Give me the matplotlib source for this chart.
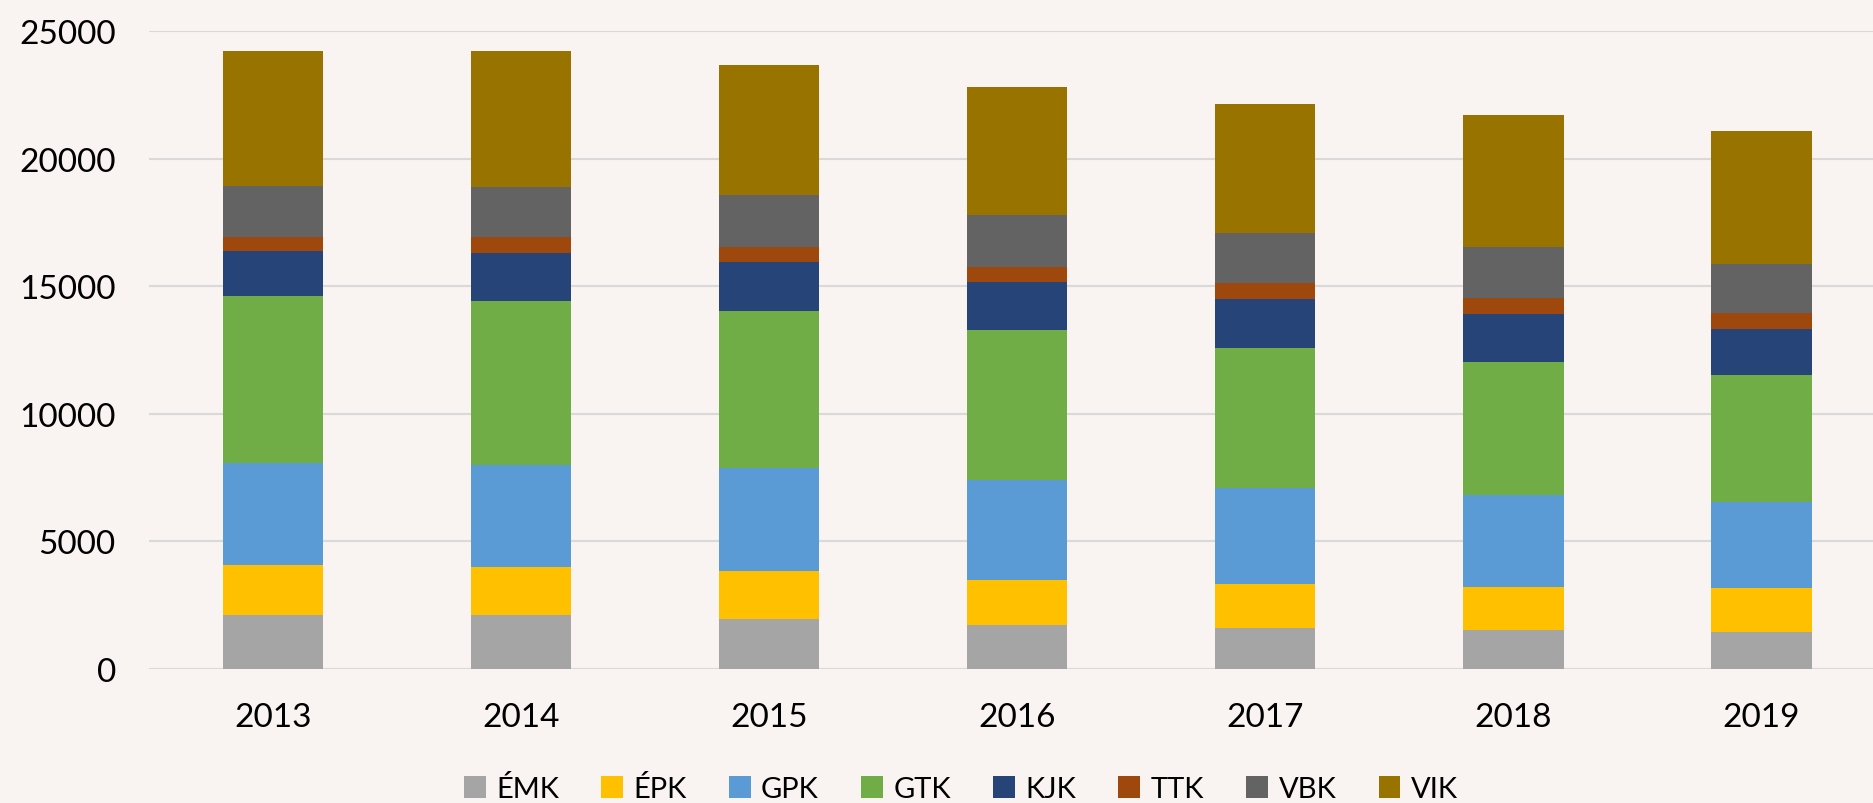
import numpy as np
import matplotlib.pyplot as plt

# Data
years = ["2013", "2014", "2015", "2016", "2017", "2018", "2019"]
faculties = ["ÉMK", "ÉPK", "GPK", "GTK", "KJK", "TTK", "VBK", "VIK"]

emk = [2110, 2110, 1940, 1730, 1610, 1520, 1430]
epk = [1970, 1870, 1900, 1760, 1710, 1690, 1750]
gpk = [3980, 4000, 4050, 3930, 3790, 3610, 3370]
gtk = [6560, 6430, 6150, 5850, 5470, 5190, 4960]
kjk = [1760, 1900, 1900, 1890, 1920, 1890, 1820]
ttk = [560, 610, 590, 590, 630, 650, 630]
vbk = [1990, 1970, 2030, 2030, 1970, 1990, 1920]
vik = [5290, 5310, 5100, 5010, 5050, 5150, 5190]

series = [emk, epk, gpk, gtk, kjk, ttk, vbk, vik]
colors = ["#A5A5A5", "#FFC000", "#5B9BD5", "#70AD47",
          "#264478", "#9E480E", "#636363", "#997300"]

plt.rcParams['font.family'] = ['Lato', 'DejaVu Sans']

bg = "#F9F4F1"
fig = plt.figure(figsize=(18.73, 8.04), dpi=100, facecolor=bg)
# plot area runs a little past the right edge of the picture
ax = fig.add_axes([0.0796, 0.1667, 0.927, 0.7935])
ax.set_facecolor("none")

x = np.arange(len(years))
bottom = np.zeros(len(years))
for name, vals, col in zip(faculties, series, colors):
    ax.bar(x, vals, width=0.405, bottom=bottom, color=col, label=name,
           zorder=3)
    bottom += np.array(vals)

ax.set_xlim(-0.5, len(years) - 0.5)
ax.set_ylim(0, 25000)
ax.set_yticks(np.arange(0, 25001, 5000))
ax.yaxis.grid(True, color="#D9D9D9", linewidth=1.5, zorder=0)
ax.set_axisbelow(True)
for s in ax.spines.values():
    s.set_visible(False)
ax.tick_params(axis="both", length=0, labelsize=24, colors="black")
ax.tick_params(axis="y", pad=24)
ax.tick_params(axis="x", pad=24)
ax.set_xticks(x)
ax.set_xticklabels(years)

fig.legend(loc="center", bbox_to_anchor=(0.513, 0.018), ncol=8,
           frameon=False, fontsize=21, handlelength=0.75, handleheight=0.75,
           handletextpad=0.35, columnspacing=1.45)

fig.savefig("out.png", dpi=100, facecolor=bg)
